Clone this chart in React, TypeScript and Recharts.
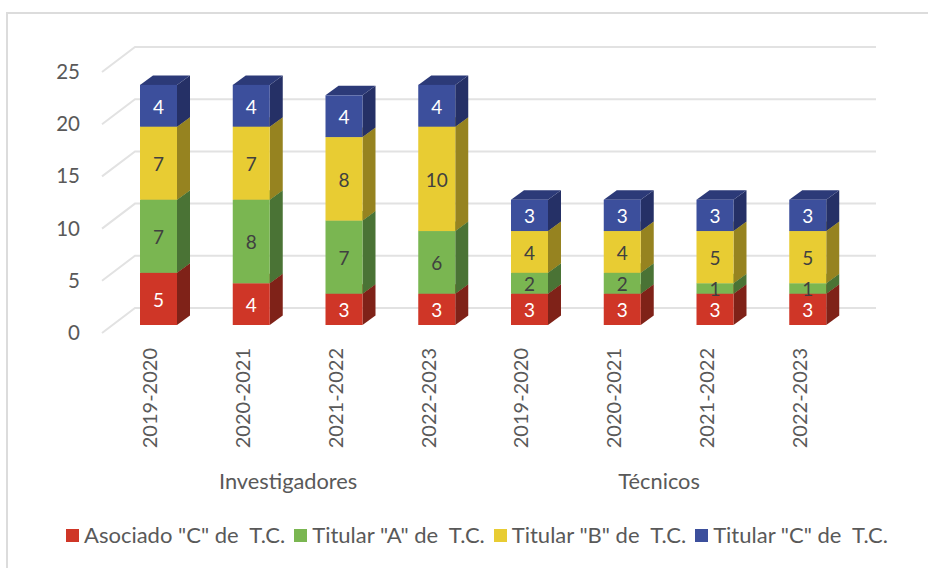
import React from 'react';
import { BarChart, Bar, XAxis, YAxis, CartesianGrid, Legend, LabelList } from 'recharts';

const periods = ['2019-2020', '2020-2021', '2021-2022', '2022-2023', '2019-2020', '2020-2021', '2021-2022', '2022-2023'];
const groups = ['Investigadores', 'Investigadores', 'Investigadores', 'Investigadores', 'Técnicos', 'Técnicos', 'Técnicos', 'Técnicos'];
const asociadoC = [5, 4, 3, 3, 3, 3, 3, 3];
const titularA = [7, 8, 7, 6, 2, 2, 1, 1];
const titularB = [7, 7, 8, 10, 4, 4, 5, 5];
const titularC = [4, 4, 4, 4, 3, 3, 3, 3];
const yTicks = [0, 5, 10, 15, 20, 25];

const chartData = periods.map((period, i) => ({
  period,
  group: groups[i],
  asociadoC: asociadoC[i],
  titularA: titularA[i],
  titularB: titularB[i],
  titularC: titularC[i]
}));

const FONT = 'Lato, sans-serif';
const GRAY = '#595959';
const GRID = '#e2e2e2';

// depth of the fake 3D: walls sit further back than the bars
const BAR_DX = 13;
const BAR_DY = 9.5;

function Box3D(props: any) {
  const { x, y, width, height, fill, side, top } = props;
  const r = x + width;
  const b = y + height;
  return (
    <g>
      <polygon points={`${r},${y} ${r + BAR_DX},${y - BAR_DY} ${r + BAR_DX},${b - BAR_DY} ${r},${b}`} fill={side} />
      <polygon points={`${x},${y} ${r},${y} ${r + BAR_DX},${y - BAR_DY} ${x + BAR_DX},${y - BAR_DY}`} fill={top} />
      <rect x={x} y={y} width={width} height={height} fill={fill} />
    </g>
  );
}

function GridLine(props: any) {
  const { x1, x2, y1 } = props;
  return (
    <g stroke={GRID} strokeWidth={2} fill="none">
      <polyline points={`${x1 - 10},${y1 + 8} ${x1 + 23},${y1 - 17} ${x2 + 22},${y1 - 17}`} />
    </g>
  );
}

function YTick(props: any) {
  const { y, payload } = props;
  return (
    <text x={80} y={y + 15} textAnchor="end" fontFamily={FONT} fontSize={20.5} fill={GRAY}>
      {payload.value}
    </text>
  );
}

function XTick(props: any) {
  const { x, payload, index } = props;
  return (
    <g>
      <text
        transform={`translate(${x - 1},348) rotate(-90)`}
        textAnchor="end"
        fontFamily={FONT}
        fontSize={20}
        fill={GRAY}
      >
        {payload.value}
      </text>
      {(index === 1 || index === 5) && (
        <text x={x + 37} y={489} textAnchor="middle" fontFamily={FONT} fontSize={21.8} fill={GRAY}>
          {groups[index]}
        </text>
      )}
    </g>
  );
}

function LegendRow(props: any) {
  return (
    <div style={{ display: 'flex', fontFamily: FONT, fontSize: 22, color: GRAY, whiteSpace: 'pre', lineHeight: '24px' }}>
      {props.payload.map((item: any) => (
        <div key={item.value} style={{ display: 'flex', alignItems: 'center', marginRight: 9 }}>
          <span style={{ width: 13, height: 13, background: item.color, marginRight: 5 }} />
          {item.value}
        </div>
      ))}
    </div>
  );
}

const makeLabel = (color: string) => (props: any) => {
  const { x, y, width, height, value } = props;
  return (
    <text x={x + width / 2} y={y + height / 2 + 8} textAnchor="middle" fontFamily={FONT} fontSize={19} fill={color}>
      {value}
    </text>
  );
};

export default function App() {
  return (
    <div style={{ position: 'absolute', left: 0, top: 0, width: 928, height: 568, overflow: 'hidden', background: '#fff' }}>
      <div style={{ position: 'absolute', left: 6, top: 12, width: 1000, height: 1000, border: '2px solid #dcdcdc' }} />
      <div style={{ position: 'absolute', left: 0, top: 0 }}>
        <BarChart
          width={928}
          height={568}
          data={chartData}
          barSize={37}
          margin={{ top: 64, right: 74, bottom: 218, left: 111 }}
        >
          <CartesianGrid vertical={false} horizontal={<GridLine />} />
          <XAxis dataKey="period" height={1} axisLine={false} tickLine={false} interval={0} tick={<XTick />} allowDuplicatedCategory />
          <YAxis width={1} domain={[0, 25]} ticks={yTicks} axisLine={false} tickLine={false} tick={<YTick />} />
          <Legend
            content={<LegendRow />}
            wrapperStyle={{ position: 'absolute', left: 66, top: 523, width: 860, bottom: 'auto' }}
          />
          <Bar
            dataKey="asociadoC"
            name={'Asociado "C" de  T.C.'}
            stackId="a"
            fill="#CF3627"
            isAnimationActive={false}
            shape={(p: any) => <Box3D {...p} side="#7F2218" top="#9a2a1e" />}
          >
            <LabelList dataKey="asociadoC" content={makeLabel('#ffffff')} />
          </Bar>
          <Bar
            dataKey="titularA"
            name={'Titular "A" de  T.C.'}
            stackId="a"
            fill="#7AB651"
            isAnimationActive={false}
            shape={(p: any) => <Box3D {...p} side="#4A7335" top="#5c8a3e" />}
          >
            <LabelList dataKey="titularA" content={makeLabel('#404040')} />
          </Bar>
          <Bar
            dataKey="titularB"
            name={'Titular "B" de  T.C.'}
            stackId="a"
            fill="#E8CC33"
            isAnimationActive={false}
            shape={(p: any) => <Box3D {...p} side="#968320" top="#b09a26" />}
          >
            <LabelList dataKey="titularB" content={makeLabel('#404040')} />
          </Bar>
          <Bar
            dataKey="titularC"
            name={'Titular "C" de  T.C.'}
            stackId="a"
            fill="#3C4F9C"
            isAnimationActive={false}
            shape={(p: any) => <Box3D {...p} side="#253066" top="#2C3A78" />}
          >
            <LabelList dataKey="titularC" content={makeLabel('#ffffff')} />
          </Bar>
        </BarChart>
      </div>
    </div>
  );
}
